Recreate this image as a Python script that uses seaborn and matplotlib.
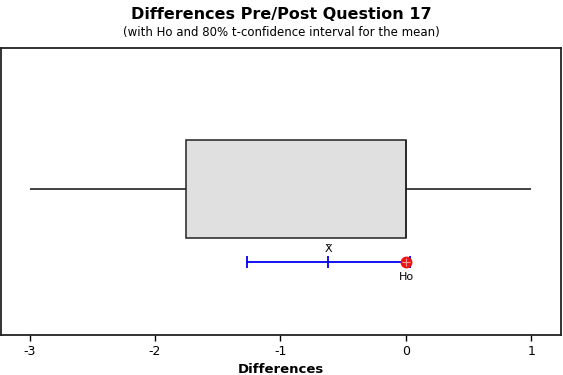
import numpy as np
import matplotlib
matplotlib.use("Agg")
import matplotlib.pyplot as plt
import seaborn as sns

# Five-number summary: min, Q1, median, Q3, max
box_summary = [-3.0, -1.75, 0.0, 0.0, 1.0]
# Mean and 80% t-confidence interval, plus the null hypothesis value
mean_diff = -0.62
ci_low, ci_high = -1.27, 0.03
h0 = 0.0
x_ticks = [-3, -2, -1, 0, 1]

sns.set_style("white")
plt.rcParams['font.family'] = ['DejaVu Sans']
plt.rcParams['text.color'] = 'black'
plt.rcParams['axes.labelcolor'] = 'black'
plt.rcParams['xtick.color'] = 'black'

fig = plt.figure(figsize=(5.63, 3.75), dpi=100)
ax = fig.add_axes([0.0018, 0.1067, 0.9946, 0.7653])

# Box from the summary values (whiskers reach min and max)
sns.boxplot(x=box_summary, orient="h", ax=ax, width=0.8, whis=1.5,
            showcaps=False, color="#E0E0E0",
            boxprops=dict(facecolor="#E0E0E0", edgecolor="#222222", linewidth=1.1),
            whiskerprops=dict(color="#222222", linewidth=1.2),
            medianprops=dict(color="#222222", linewidth=1.1),
            flierprops=dict(marker=""))

# Confidence interval for the mean
ci_y = 0.6
ax.plot([ci_low, ci_high], [ci_y, ci_y], color="#0000EE", lw=1.3, zorder=3)
ax.plot([ci_low, ci_high, mean_diff], [ci_y] * 3, ls="", marker="|",
        ms=8, mew=1.3, color="#0000EE", zorder=3)
ax.text(mean_diff, ci_y - 0.07, "X\u0304", ha="center", va="bottom", fontsize=8)

# Ho marker
ax.plot(h0, ci_y, marker="o", ms=7.5, color="#EE1111", zorder=4)
ax.plot(h0, ci_y, marker="+", ms=6, mew=0.8, color="#FF9999", zorder=5)
ax.text(h0, ci_y + 0.08, "Ho", ha="center", va="top", fontsize=8)

ax.set_xlim(-3.227, 1.235)
ax.set_ylim(1.192, -1.151)
ax.set_xticks(x_ticks)
ax.set_xticklabels([str(t) for t in x_ticks], fontsize=9)
ax.set_yticks([])
ax.tick_params(axis="x", direction="out", length=4, width=1, bottom=True, pad=3)
ax.set_xlabel("Differences", fontsize=9.5, fontweight="bold", labelpad=4)
ax.set_ylabel("")
for s in ax.spines.values():
    s.set_visible(True)
    s.set_color("#222222")
    s.set_linewidth(1.3)

fig.text(0.5, 0.962, "Differences Pre/Post Question 17", ha="center", va="center",
         fontsize=11.5, fontweight="bold")
fig.text(0.5, 0.913, "(with Ho and 80% t-confidence interval for the mean)",
         ha="center", va="center", fontsize=8.5)

fig.savefig("out.png", dpi=100)
